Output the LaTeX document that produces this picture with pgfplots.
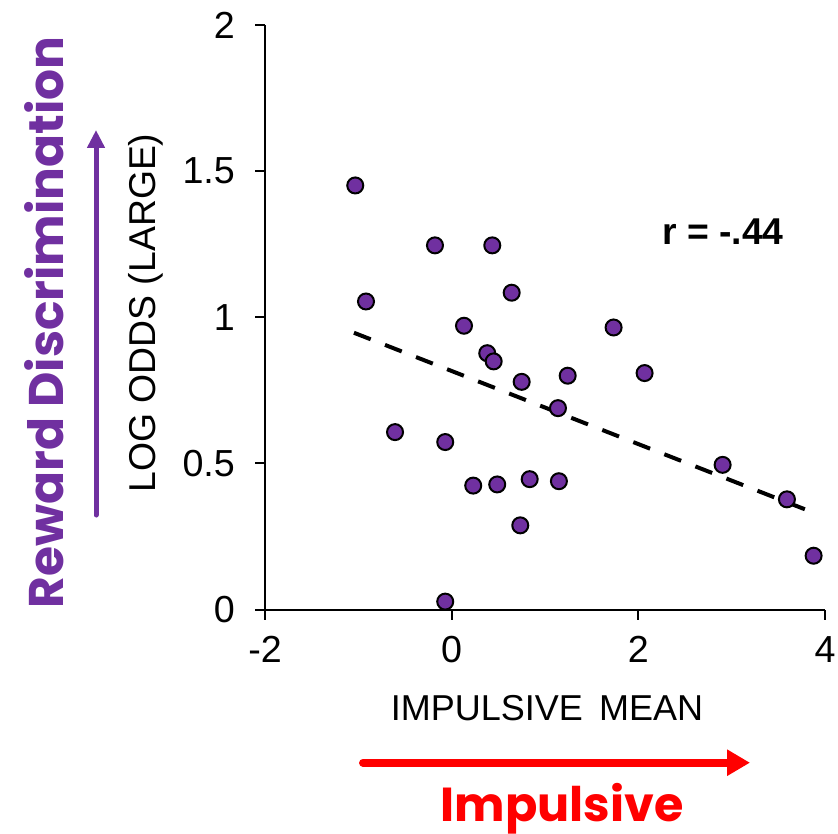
\documentclass[border=0pt]{standalone}
\usepackage{pgfplots}
\pgfplotsset{compat=1.18}
\usepackage{fontspec}
\setmainfont{Liberation Sans}
\newfontfamily\geo{Poppins}
\usetikzlibrary{arrows.meta}
\definecolor{officepurple}{HTML}{7030A0}
\definecolor{pptred}{HTML}{FF0000}
\begin{document}
\begin{tikzpicture}[x=0.3pt,y=0.3pt]
\path[use as bounding box] (0,0) rectangle (838,833);
\begin{axis}[
  at={(79.5pt,67.05pt)}, anchor=south west,
  scale only axis, width=168pt, height=175.35pt,
  xmin=-2, xmax=4, ymin=0, ymax=2,
  xtick={-2,0,2,4}, ytick={0,0.5,1,1.5,2},
  axis x line*=bottom, axis y line*=left,
  axis line style={line width=0.6pt, -},
  tick align=outside, major tick length=3pt,
  tick style={line width=0.6pt, black},
  every tick label/.append style={font=\fontsize{11.3}{13}\selectfont},
  /pgf/number format/assume math mode=true,
  yticklabel style={/pgf/number format/fixed, xshift=-2.5pt},
  xticklabel style={yshift=-1.5pt},
  clip=false,
]
\addplot[only marks, mark=*, mark size=2.4pt,
  mark options={fill=officepurple, draw=black, line width=0.6pt}]
  coordinates {
  (-1.033,1.451) (-0.918,1.054) (-0.607,0.607) (-0.179,1.246)
  (-0.069,0.573) (-0.069,0.027) (0.132,0.971) (0.231,0.424)
  (0.381,0.877) (0.435,1.246) (0.450,0.849) (0.488,0.428)
  (0.643,1.084) (0.750,0.779) (0.735,0.288) (0.836,0.446)
  (1.139,0.689) (1.149,0.439) (1.243,0.800) (1.735,0.965)
  (2.067,0.809) (2.903,0.495) (3.592,0.377) (3.878,0.184)
  };
\addplot[black, line width=1.2pt, dash pattern=on 5.4pt off 4.6pt]
  coordinates {(-1.047,0.947) (3.784,0.343)};
\end{axis}
% axis titles
\node[rotate=90, anchor=base, font=\fontsize{11.2}{13}\selectfont] at (155,520) {LOG ODDS (LARGE)};
\node[anchor=base, font=\fontsize{10.8}{13}\selectfont] at (547,113) {IMPULSIVE\hspace{0.45em}MEAN};
\node[anchor=base, font=\fontsize{11.2}{13}\selectfont\bfseries] at (723,588) {r = -.44};
% annotations
\node[rotate=90, anchor=base, text=officepurple, font=\geo\fontsize{14.6}{17}\selectfont\bfseries] at (63,510.5) {Reward Discrimination};
\draw[officepurple, line width=1.5pt, line cap=round, -{Triangle[length=5.4pt,width=5.1pt]}] (96,318) -- (96,703);
\draw[pptred, line width=2.4pt, line cap=round, -{Triangle[length=6.9pt,width=7.5pt]}] (363,70.3) -- (750,70.3);
\node[anchor=base, text=pptred, font=\geo\fontsize{14.3}{17}\selectfont\bfseries] at (562,12) {Impulsive};
\end{tikzpicture}
\end{document}
